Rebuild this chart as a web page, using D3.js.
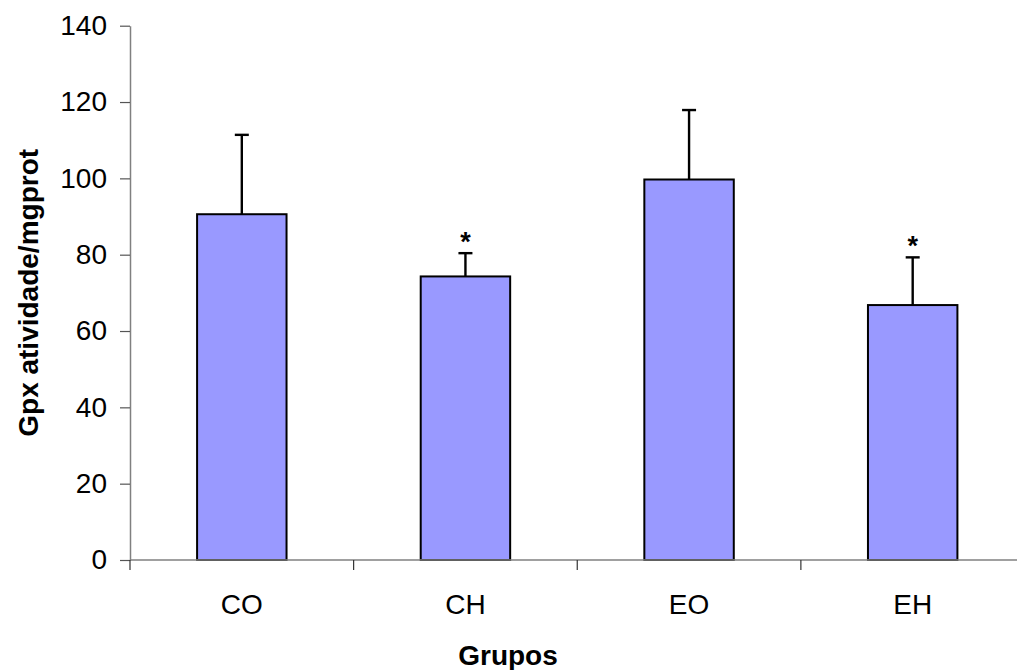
<!DOCTYPE html>
<html>
<head>
<meta charset="utf-8">
<script src="https://cdn.jsdelivr.net/npm/d3@7"></script>
<style>
  html, body { margin: 0; padding: 0; background: #fff; }
  text { font-family: "Liberation Sans", Arial, sans-serif; }
</style>
</head>
<body>
<div id="chart"></div>
<script>
const groups = ['CO', 'CH', 'EO', 'EH'];
const means = [90.6, 74.3, 99.7, 66.8];
const errors = [20.8, 6.1, 18.2, 12.5];
const marked = [false, true, false, true];
const yTicks = [0, 20, 40, 60, 80, 100, 120, 140];

const width = 1017;
const height = 670;
const plot = { left: 130, right: 1024.5, top: 25.7, bottom: 560 };

const svg = d3.select('#chart')
  .append('svg')
  .attr('width', width)
  .attr('height', height);

const x = d3.scaleBand()
  .domain(groups)
  .range([plot.left, plot.right])
  .padding(0);

const y = d3.scaleLinear()
  .domain([0, 140])
  .range([plot.bottom, plot.top]);

const barWidth = x.bandwidth() * 0.4;
const capWidth = 14;

// y axis
svg.append('g')
  .attr('transform', `translate(${plot.left},0)`)
  .call(d3.axisLeft(y).tickValues(yTicks).tickSize(10).tickPadding(13).tickSizeOuter(0))
  .call(g => g.select('.domain').attr('stroke', '#808080').attr('stroke-width', 1.5))
  .call(g => g.selectAll('.tick line').attr('stroke', '#555').attr('stroke-width', 1.2))
  .call(g => g.selectAll('.tick text')
    .attr('fill', '#000')
    .style('font-size', '28px')
    .style('font-family', '"Liberation Sans", Arial, sans-serif'));

// bars
const bars = svg.append('g');
bars.selectAll('rect')
  .data(groups)
  .enter()
  .append('rect')
  .attr('x', d => x(d) + (x.bandwidth() - barWidth) / 2)
  .attr('y', (d, i) => y(means[i]))
  .attr('width', barWidth)
  .attr('height', (d, i) => y(0) - y(means[i]))
  .attr('fill', '#9999ff')
  .attr('stroke', '#000')
  .attr('stroke-width', 2);

// error bars (upper only)
const errs = svg.append('g').attr('stroke', '#000').attr('stroke-width', 2.4);
groups.forEach((d, i) => {
  const cx = x(d) + x.bandwidth() / 2;
  errs.append('line')
    .attr('x1', cx).attr('x2', cx)
    .attr('y1', y(means[i])).attr('y2', y(means[i] + errors[i]));
  errs.append('line')
    .attr('x1', cx - capWidth / 2).attr('x2', cx + capWidth / 2)
    .attr('y1', y(means[i] + errors[i])).attr('y2', y(means[i] + errors[i]));
  if (marked[i]) {
    svg.append('text')
      .attr('x', cx)
      .attr('y', y(means[i] + errors[i]) - 2)
      .attr('text-anchor', 'middle')
      .style('font-size', '27px')
      .style('font-weight', 'bold')
      .attr('fill', '#000')
      .text('*');
  }
});

// x axis
const xa = svg.append('g');
xa.append('line')
  .attr('x1', plot.left).attr('x2', plot.right)
  .attr('y1', y(0)).attr('y2', y(0))
  .attr('stroke', '#808080')
  .attr('stroke-width', 1.5);
const bounds = groups.map(d => x(d)).concat([x(groups[groups.length - 1]) + x.bandwidth()]);
xa.selectAll('.xtick')
  .data(bounds)
  .enter()
  .append('line')
  .attr('x1', d => d).attr('x2', d => d)
  .attr('y1', y(0)).attr('y2', y(0) + 10)
  .attr('stroke', '#333')
  .attr('stroke-width', 1.2);
xa.selectAll('.xlabel')
  .data(groups)
  .enter()
  .append('text')
  .attr('x', d => x(d) + x.bandwidth() / 2)
  .attr('y', 614)
  .attr('text-anchor', 'middle')
  .style('font-size', '28px')
  .attr('fill', '#000')
  .text(d => d);

// titles
svg.append('text')
  .attr('x', 508)
  .attr('y', 665)
  .attr('text-anchor', 'middle')
  .style('font-size', '28px')
  .style('font-weight', 'bold')
  .text('Grupos');

svg.append('text')
  .attr('transform', `translate(38,${(plot.top + plot.bottom) / 2}) rotate(-90)`)
  .attr('text-anchor', 'middle')
  .style('font-size', '28px')
  .style('font-weight', 'bold')
  .text('Gpx atividade/mgprot');
</script>
</body>
</html>
